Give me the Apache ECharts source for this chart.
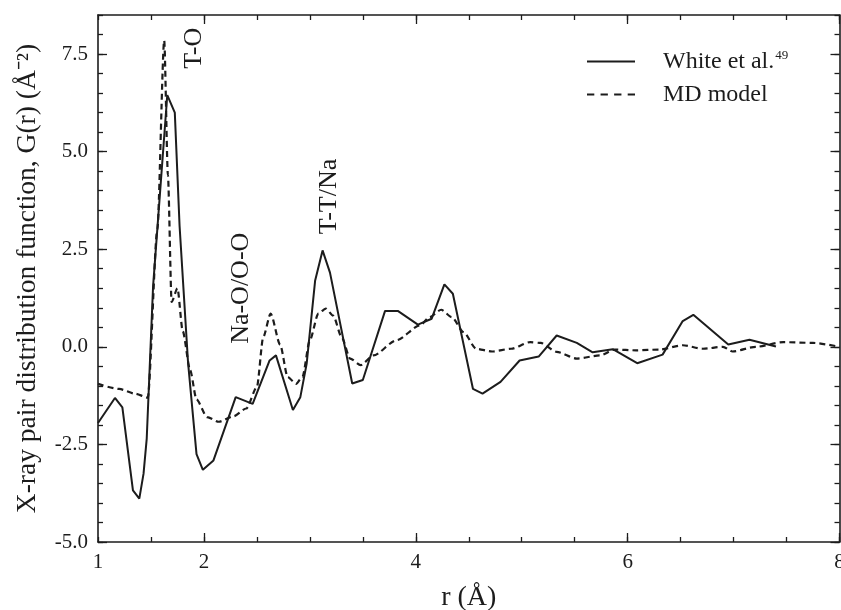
<!DOCTYPE html>
<html>
<head>
<meta charset="utf-8">
<script src="https://cdn.jsdelivr.net/npm/echarts@6/dist/echarts.min.js"></script>
<style>
  html, body { margin: 0; padding: 0; background: #fff; }
  #chart { width: 841px; height: 610px; }
</style>
</head>
<body>
<div id="chart"></div>
<script>
// X-ray pair distribution function G(r): experiment vs. MD model

// Experimental curve (White et al.)
const rWhite = [1.00, 1.16, 1.23, 1.33, 1.39, 1.43, 1.46, 1.52, 1.654, 1.725, 1.77, 1.85, 1.93, 1.99,
  2.09, 2.30, 2.46, 2.62, 2.68, 2.84, 2.91, 2.97, 3.05, 3.12, 3.19, 3.40, 3.50, 3.71, 3.83,
  4.02, 4.15, 4.27, 4.35, 4.54, 4.63, 4.80, 4.98, 5.16, 5.33, 5.52, 5.67, 5.86, 6.09, 6.33,
  6.52, 6.62, 6.95, 7.15, 7.40];
const gWhite = [-1.95, -1.31, -1.55, -3.68, -3.89, -3.25, -2.35, 1.55, 6.45, 6.00, 3.10, -0.40, -2.75, -3.15,
  -2.91, -1.29, -1.46, -0.35, -0.22, -1.62, -1.29, -0.43, 1.70, 2.47, 1.90, -0.94, -0.85, 0.92, 0.92,
  0.57, 0.72, 1.60, 1.36, -1.08, -1.20, -0.90, -0.35, -0.25, 0.29, 0.10, -0.14, -0.06, -0.42, -0.20,
  0.66, 0.82, 0.06, 0.18, 0.01];

// Simulated curve (MD model)
const rMD = [1.00, 1.20, 1.35, 1.47, 1.56, 1.625, 1.66, 1.695, 1.75, 1.80, 1.87, 1.93, 2.03, 2.14,
  2.28, 2.40, 2.50, 2.56, 2.63, 2.72, 2.79, 2.87, 2.93, 3.00, 3.08, 3.15, 3.22, 3.30, 3.38, 3.48,
  3.60, 3.82, 4.04, 4.13, 4.24, 4.34, 4.45, 4.57, 4.72, 4.90, 5.08, 5.18, 5.33, 5.52, 5.74, 5.88,
  6.08, 6.30, 6.52, 6.71, 6.90, 6.99, 7.21, 7.47, 7.75, 8.00];
const gMD = [-0.95, -1.08, -1.20, -1.30, 3.00, 7.85, 4.40, 1.15, 1.50, 0.40, -0.60, -1.35, -1.80, -1.92,
  -1.78, -1.58, -1.03, 0.25, 0.85, 0.05, -0.77, -0.95, -0.77, 0.17, 0.85, 0.98, 0.80, 0.25, -0.30, -0.47,
  -0.22, 0.17, 0.55, 0.76, 0.95, 0.76, 0.38, -0.05, -0.12, -0.05, 0.12, 0.10, -0.13, -0.30, -0.22, -0.07,
  -0.09, -0.07, 0.04, -0.05, 0.00, -0.12, 0.00, 0.12, 0.10, 0.00];

// Axis tick values
const xMajorTicks = [2, 4, 6, 8];
const xLabelValues = [1, 2, 4, 6, 8];
const yMajorTicks = [-5, -2.5, 0, 2.5, 5, 7.5];

const seriesNames = ['White et al.', 'MD model'];

const FONT = '"Liberation Serif", "Times New Roman", serif';
const INK = '#1c1c1c';

// Legend keys: a plain stroke and a dashed stroke
const ICON_SOLID = 'path://M0,0H48V2H0Z';
const ICON_DASHED = 'path://M0,0H7V2H0Z M13,0H20V2H13Z M26,0H33V2H26Z M39,0H46V2H39Z';

const chart = echarts.init(document.getElementById('chart'), null, { renderer: 'canvas' });

function pairs(xs, ys) { return xs.map((x, i) => [x, ys[i]]); }

const tickStyle = { color: INK, width: 1.3 };

function xAxisBase(position, extra) {
  return Object.assign({
    type: 'value', min: 1, max: 8, position: position,
    axisLine: { show: true, onZero: false, lineStyle: { color: INK, width: 1.6 } },
    splitLine: { show: false },
    axisLabel: { show: false },
    axisTick: { show: true, inside: true, length: 5, lineStyle: tickStyle }
  }, extra);
}
function yAxisBase(position, extra) {
  return Object.assign({
    type: 'value', min: -5, max: 8.5, position: position,
    axisLine: { show: true, onZero: false, lineStyle: { color: INK, width: 1.6 } },
    splitLine: { show: false },
    axisLabel: { show: false },
    axisTick: { show: true, inside: true, length: 5, lineStyle: tickStyle }
  }, extra);
}
// Overlay axis that only carries the longer major ticks
function majorTicks(values) {
  return {
    axisLine: { show: false, onZero: false },
    axisTick: { show: true, inside: true, length: 9, customValues: values, lineStyle: tickStyle }
  };
}

const option = {
  backgroundColor: '#fff',
  animation: false,
  grid: { left: 98, right: 1.5, top: 15, bottom: 68, containLabel: false, outerBoundsMode: 'none' },
  legend: {
    orient: 'vertical',
    left: 582, top: 44,
    itemWidth: 48, itemHeight: 14, itemGap: 9,
    data: [
      { name: seriesNames[0], icon: ICON_SOLID },
      { name: seriesNames[1], icon: ICON_DASHED }
    ],
    textStyle: {
      fontFamily: FONT, fontSize: 24, color: INK, padding: [0, 0, 0, 23],
      rich: {
        a: { fontFamily: FONT, fontSize: 24, color: INK },
        s: { fontFamily: FONT, fontSize: 13, color: INK, verticalAlign: 'top', padding: [0, 0, 12, 1] }
      }
    },
    formatter: function (name) {
      return name === 'White et al.' ? '{a|White et al.}{s|49}' : '{a|' + name + '}';
    }
  },
  xAxis: [
    xAxisBase('bottom', {
      interval: 0.5,
      name: 'r (Å)', nameLocation: 'middle', nameGap: 42,
      nameTextStyle: { fontFamily: FONT, fontSize: 28, color: INK },
      axisLabel: {
        show: true, margin: 10, fontFamily: FONT, fontSize: 21, color: INK,
        customValues: xLabelValues,
        formatter: function (v) { return String(v); }
      }
    }),
    xAxisBase('bottom', majorTicks(xMajorTicks)),
    xAxisBase('top', { interval: 0.5 }),
    xAxisBase('top', majorTicks(xMajorTicks))
  ],
  yAxis: [
    yAxisBase('left', {
      interval: 0.5,
      name: 'X-ray pair distribution function, G(r) (Å⁻²)', nameLocation: 'middle', nameGap: 56,
      nameTextStyle: { fontFamily: FONT, fontSize: 27.5, color: INK },
      axisLabel: {
        show: true, margin: 10, fontFamily: FONT, fontSize: 21, color: INK,
        customValues: yMajorTicks,
        formatter: function (v) { return v.toFixed(1); }
      }
    }),
    yAxisBase('left', majorTicks(yMajorTicks)),
    yAxisBase('right', { interval: 0.5 }),
    yAxisBase('right', majorTicks(yMajorTicks))
  ],
  series: [
    {
      name: seriesNames[0], type: 'line', xAxisIndex: 0, yAxisIndex: 0,
      data: pairs(rWhite, gWhite), symbol: 'none', z: 3,
      lineStyle: { color: INK, width: 2, type: 'solid' }, itemStyle: { color: INK }
    },
    {
      name: seriesNames[1], type: 'line', xAxisIndex: 0, yAxisIndex: 0,
      data: pairs(rMD, gMD), symbol: 'none', smooth: 0.25, smoothMonotone: 'x', z: 2,
      lineStyle: { color: INK, width: 2.2, type: [6, 4] }, itemStyle: { color: INK }
    }
  ]
};

chart.setOption(option);

// Peak assignments, written vertically beside each peak
const peakLabels = [
  { text: 'T-O', r: 1.91, g: 7.65 },
  { text: 'Na-O/O-O', r: 2.35, g: 1.5 },
  { text: 'T-T/Na', r: 3.18, g: 3.85 }
];
chart.setOption({
  graphic: peakLabels.map(function (p) {
    const pt = chart.convertToPixel({ xAxisIndex: 0, yAxisIndex: 0 }, [p.r, p.g]);
    return {
      type: 'text', x: pt[0], y: pt[1], rotation: Math.PI / 2,
      style: { text: p.text, fontFamily: FONT, fontSize: 26, fill: INK, align: 'center', verticalAlign: 'middle' }
    };
  })
});
</script>
</body>
</html>
